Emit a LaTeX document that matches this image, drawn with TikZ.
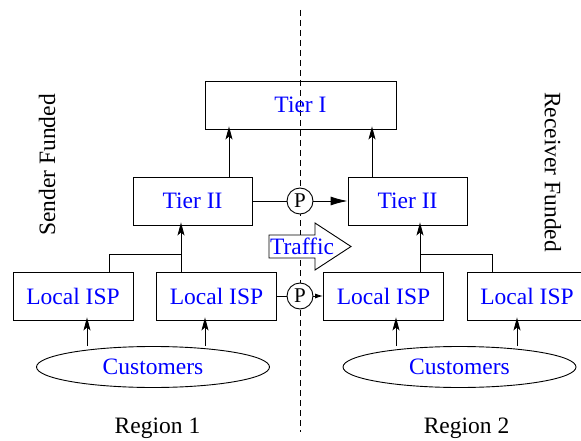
\documentclass[tikz,border=0pt]{standalone}
\usepackage{fontspec}
\setmainfont{Liberation Serif}
\usetikzlibrary{arrows.meta,shapes.geometric}
\tikzset{
  netbox/.style={draw,line width=0.9pt,inner sep=0pt,minimum height=48pt,text=blue},
  custell/.style={draw,ellipse,line width=0.9pt,inner sep=0pt,minimum width=233pt,minimum height=41pt,text=blue},
  peer/.style={draw,circle,fill=white,line width=0.9pt,inner sep=0pt,minimum size=26pt,font=\fontsize{21}{24}\selectfont},
  upArrow/.style={-{Stealth[length=13pt,width=7pt,inset=3pt]},line width=0.9pt},
  peerArrow/.style={-{Latex[length=17pt,width=9pt]},line width=0.9pt},
  smallArrow/.style={-{Latex[length=8pt,width=5pt]},line width=0.9pt}
}
\begin{document}
\begin{tikzpicture}[x=1pt,y=-1pt,font=\fontsize{23.5}{28}\selectfont]
  \useasboundingbox (0,0) rectangle (581,441);
  % region border
  \draw[dashed,dash pattern=on 6pt off 4pt,line width=0.8pt] (300,10) -- (300,432);

  \node[netbox,minimum width=191pt] (tierI) at (300.5,105) {Tier I};
  \node[netbox,minimum width=119pt] (tierIIa) at (192.5,201) {Tier II};
  \node[netbox,minimum width=119pt] (tierIIb) at (407.5,201) {Tier II};

  \node[netbox,minimum width=120pt] (ispA) at (73,296) {Local ISP};
  \node[netbox,minimum width=120pt] (ispB) at (216.5,296) {Local ISP};
  \node[netbox,minimum width=120pt] (ispC) at (383.5,296) {Local ISP};
  \node[netbox,minimum width=120pt] (ispD) at (527,296) {Local ISP};

  \node[custell] (custA) at (153,367) {Customers};
  \node[custell] (custB) at (459.5,367) {Customers};

  \node[peer] (peerTop) at (300,201) {P};
  \node[peer] (peerBot) at (300,296) {P};

  % traffic arrow
  \draw[line width=0.9pt,fill=white] (269,235) -- (315,235) -- (315,223) -- (351,246.5)
    -- (315,270) -- (315,258) -- (269,258) -- cycle;
  \node[text=blue,inner sep=0pt] (traffic) at (302,246) {Traffic};

  % tier II up to tier I
  \coordinate (ua) at (229,0);
  \coordinate (ub) at (372,0);
  \draw[upArrow] (ua |- tierIIa.north) -- ([yshift=3pt]ua |- tierI.south);
  \draw[upArrow] (ub |- tierIIb.north) -- ([yshift=3pt]ub |- tierI.south);

  % local ISPs up to tier II
  \coordinate (ja) at (109,254);
  \coordinate (jb) at (181,254);
  \coordinate (jc) at (420,254);
  \coordinate (jd) at (492,254);
  \draw[line width=0.9pt] (ja |- ispA.north) -- (ja) -- (jb);
  \draw[upArrow] (jb |- ispB.north) -- ([yshift=3pt]jb |- tierIIa.south);
  \draw[line width=0.9pt] (jd |- ispD.north) -- (jd) -- (jc);
  \draw[upArrow] (jc |- ispC.north) -- ([yshift=3pt]jc |- tierIIb.south);

  % peering
  \draw[line width=0.9pt] (tierIIa.east) -- (peerTop.west);
  \draw[peerArrow] (peerTop.east) -- (tierIIb.west);
  \draw[line width=0.9pt] (ispB.east) -- (peerBot.west);
  \draw[smallArrow] (peerBot.east) -- (ispC.west);

  % customers
  \foreach \cx/\isp in {87/ispA,205/ispB}
    \draw[upArrow] (custA.north -| \cx,0) -- ([yshift=3pt]\isp.south -| \cx,0);
  \foreach \cx/\isp in {396/ispC,517/ispD}
    \draw[upArrow] (custB.north -| \cx,0) -- ([yshift=3pt]\isp.south -| \cx,0);

  \node[rotate=90] (sender) at (47,165) {Sender Funded};
  \node[rotate=-90] (receiver) at (553,172) {Receiver Funded};
  \node (regionA) at (157.5,428) {Region 1};
  \node (regionB) at (466.5,428) {Region 2};
\end{tikzpicture}
\end{document}
